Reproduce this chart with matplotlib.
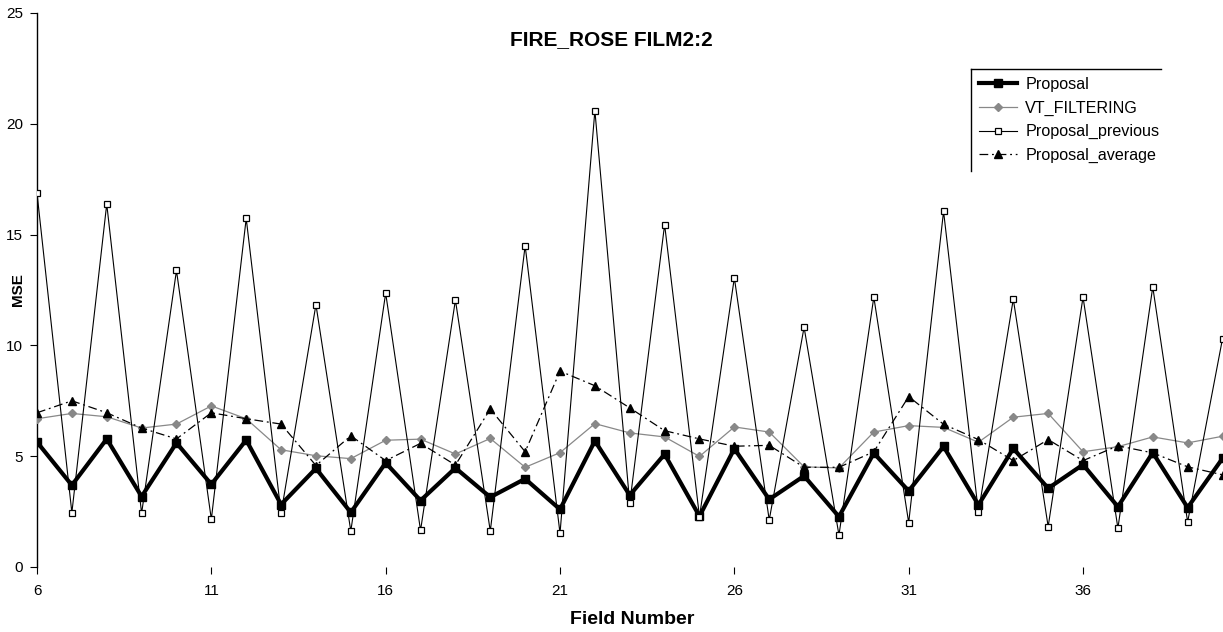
import matplotlib
matplotlib.use("Agg")
import matplotlib.pyplot as plt
from matplotlib.lines import Line2D

plt.rcParams['font.family'] = ['Liberation Sans', 'DejaVu Sans']

fields = list(range(6, 41))

proposal = [5.64, 3.69, 5.78, 3.18, 5.60, 3.73, 5.73, 2.82, 4.45, 2.46,
            4.70, 3.00, 4.47, 3.15, 3.98, 2.60, 5.69, 3.24, 5.09, 2.29,
            5.34, 3.05, 4.11, 2.27, 5.14, 3.43, 5.44, 2.80, 5.35, 3.55,
            4.62, 2.72, 5.16, 2.68, 4.90]

vt_filtering = [6.69, 6.93, 6.78, 6.27, 6.45, 7.27, 6.69, 5.29, 5.02, 4.89,
                5.72, 5.77, 5.10, 5.80, 4.50, 5.16, 6.47, 6.05, 5.87, 4.99,
                6.32, 6.09, 4.52, 4.47, 6.09, 6.38, 6.30, 5.63, 6.76, 6.93,
                5.20, 5.43, 5.87, 5.60, 5.90]

proposal_previous = [16.87, 2.45, 16.38, 2.42, 13.38, 2.15, 15.73, 2.42, 11.84, 1.62,
                     12.36, 1.65, 12.05, 1.62, 14.50, 1.52, 20.60, 2.87, 15.45, 2.27,
                     13.05, 2.12, 10.82, 1.44, 12.18, 2.00, 16.05, 2.47, 12.09, 1.82,
                     12.18, 1.75, 12.64, 2.03, 10.30]

proposal_average = [6.96, 7.50, 6.96, 6.27, 5.78, 6.96, 6.69, 6.45, 4.58, 5.92,
                    4.80, 5.58, 4.60, 7.13, 5.20, 8.84, 8.18, 7.18, 6.15, 5.78,
                    5.45, 5.49, 4.50, 4.50, 5.20, 7.69, 6.44, 5.75, 4.80, 5.75,
                    4.80, 5.47, 5.15, 4.52, 4.16]

series_names = ["Proposal", "VT_FILTERING", "Proposal_previous", "Proposal_average"]
x_tick_values = [6, 11, 16, 21, 26, 31, 36]
y_tick_values = [0, 5, 10, 15, 20, 25]

W, H = 1223, 632
fig = plt.figure(figsize=(W / 100, H / 100), dpi=100)
ax = fig.add_axes([37 / W, 1 - 567 / H, (1222.5 - 37) / W, (567 - 13) / H])

ax.plot(fields, proposal, color='black', lw=3.0, marker='s', ms=6,
        mfc='black', mec='black', label=series_names[0], zorder=3)
ax.plot(fields, vt_filtering, color='#888888', lw=0.9, marker='D', ms=3.8,
        mfc='#888888', mec='#888888', label=series_names[1], zorder=4)
ax.plot(fields, proposal_previous, color='black', lw=0.8, marker='s', ms=5,
        mfc='white', mec='black', mew=0.9, label=series_names[2], zorder=5)
ax.plot(fields, proposal_average, color='black', lw=0.9, ls=(0, (7, 3, 1.5, 3)),
        marker='^', ms=6, mfc='black', mec='black', label=series_names[3], zorder=6)

ax.set_xlim(6, 40)
ax.set_ylim(0, 25)
ax.set_xticks(x_tick_values)
ax.set_yticks(y_tick_values)
ax.tick_params(axis='both', labelsize=11, length=5, width=0.8, direction='out')
ax.tick_params(axis='x', pad=7)
ax.tick_params(axis='y', pad=5)
for s in ['top', 'right', 'bottom']:
    ax.spines[s].set_visible(False)
ax.spines['left'].set_linewidth(1.0)

fig.text(18 / W, 1 - 290 / H, "MSE", rotation=90, ha='center', va='center',
         fontsize=11, fontweight='bold')
fig.text(632 / W, 1 - 620 / H, "Field Number", ha='center', va='center',
         fontsize=14, fontweight='bold')
fig.text(611 / W, 1 - 40 / H, "FIRE_ROSE FILM2:2", ha='center', va='center',
         fontsize=15, fontweight='bold')

leg = fig.legend(loc='upper left', bbox_to_anchor=(971 / W, 1 - 69 / H),
                 bbox_transform=fig.transFigure, frameon=False, fontsize=11.6,
                 handlelength=2.36, handletextpad=0.5, labelspacing=0.53,
                 borderpad=0.5, borderaxespad=0)

fig.canvas.draw()
bb = leg.get_window_extent().transformed(fig.transFigure.inverted())
x0, y1 = 971 / W, 1 - 69 / H
fig.add_artist(Line2D([x0, 1161 / W], [y1, y1], color='black', lw=1.0,
                      transform=fig.transFigure))
fig.add_artist(Line2D([x0, x0], [y1, bb.y0], color='black', lw=1.0,
                      transform=fig.transFigure))

fig.savefig("out.png", dpi=100, facecolor='white')
